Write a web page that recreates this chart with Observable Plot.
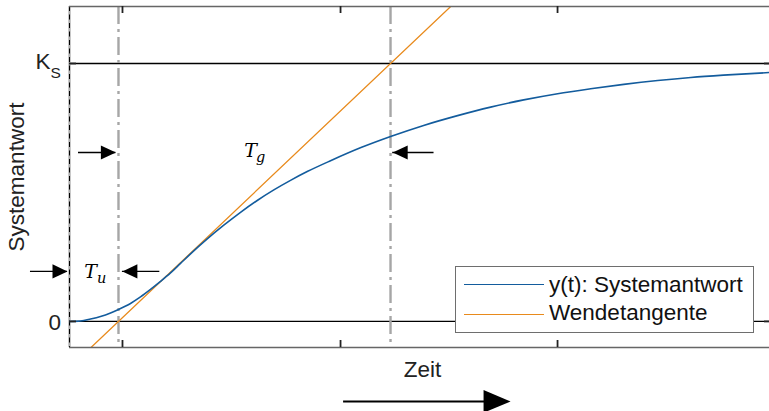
<!DOCTYPE html>
<html><head><meta charset="utf-8">
<script src="https://cdn.jsdelivr.net/npm/d3@7"></script>
<script src="https://cdn.jsdelivr.net/npm/@observablehq/plot@0.6"></script>
<style>
body{margin:0;background:#fff;}
#wrap{position:relative;width:769px;height:411px;font-family:"Liberation Sans",Arial,sans-serif;}
#legend{position:absolute;left:455px;top:266px;width:299px;height:67px;box-sizing:border-box;border:1.4px solid #6e6e6e;background:#fff;}
.sw{position:absolute;left:8px;width:80px;height:0;border-top:1.3px solid;}
.lt{position:absolute;left:93px;font-size:22.5px;line-height:22px;color:#111;white-space:nowrap;}
</style></head>
<body><div id="wrap"></div>
<script>
// step response y(t) (K_S = 1)
const time = [0, 0.253, 0.483, 0.713, 0.943, 1.126, 1.402, 1.632, 1.862, 2.092, 2.322, 2.552, 2.782, 3.166, 3.547, 3.931, 4.315, 4.697, 5.080, 5.464, 6.000, 6.700, 7.380, 8.140, 8.920, 9.680, 10.440, 11.220, 11.980, 12.740, 13.520, 14.280, 15.030, 16.090];
const response = [0, 0.002, 0.0097, 0.0194, 0.033, 0.0465, 0.0698, 0.095, 0.124, 0.155, 0.188, 0.225, 0.262, 0.320, 0.373, 0.423, 0.469, 0.510, 0.547, 0.581, 0.623, 0.674, 0.717, 0.760, 0.798, 0.831, 0.859, 0.883, 0.902, 0.919, 0.934, 0.946, 0.955, 0.965];
// inflection tangent (Wendetangente)
const tangentTime = [0.45, 8.8];
const tangentValue = [-0.108, 1.227];
const Tu = 1.126;      // end of Verzugszeit
const TgEnd = 7.379;   // end of Ausgleichszeit
const yTicks = [0, 1];
const yTickLabels = ["0", "K"];
const xTicks = [1.218, 6.23, 11.218];
const seriesNames = ["y(t): Systemantwort", "Wendetangente"];
const seriesColors = ["#135c9d", "#e88a1c"];
const xLabel = "Zeit";
const yLabel = "Systemantwort";

const curve = time.map((t, i) => ({t, v: response[i]}));
const tangent = tangentTime.map((t, i) => ({t, v: tangentValue[i]}));
const xDomain = [0, 16.09];
const yDomain = [-0.101, 1.221];

function makeHead(dir, ratio) {
  return {draw(ctx, size) {
    const r = Math.sqrt(size / Math.PI);
    ctx.moveTo(0, 0);
    ctx.lineTo(-dir * r, -ratio * r);
    ctx.lineTo(-dir * r, ratio * r);
    ctx.closePath();
  }};
}
const headR = makeHead(1, 0.47), headL = makeHead(-1, 0.47), bigHead = makeHead(1, 0.42);

// annotation arrows (data units)
const yTopArrows = 0.655, yTuArrows = 0.194, yBottomArrow = -0.31;
const arrowLines = [
  {x1: 0.207, x2: Tu - 0.06, y: yTopArrows},
  {x1: TgEnd + 1.0, x2: TgEnd + 0.05, y: yTopArrows},
  {x1: -0.897, x2: -0.046, y: yTuArrows},
  {x1: Tu + 0.95, x2: Tu + 0.09, y: yTuArrows}
];
const rightHeads = [{t: Tu - 0.06, v: yTopArrows}, {t: -0.046, v: yTuArrows}];
const leftHeads = [{t: TgEnd + 0.05, v: yTopArrows}, {t: Tu + 0.09, v: yTuArrows}];

const sans = "Liberation Sans, Arial, sans-serif";
const serif = "DejaVu Serif, Liberation Serif, serif";
const fs = 22.5;

const chart = Plot.plot({
  width: 769, height: 411,
  marginLeft: 69, marginRight: 0, marginTop: 6, marginBottom: 64,
  x: {domain: xDomain, axis: null},
  y: {domain: yDomain, axis: null},
  style: {fontFamily: sans, background: "white", overflow: "visible"},
  marks: [
    Plot.ruleY(yTicks, {y: d => d, stroke: "#000", strokeWidth: 1.3}),
    Plot.ruleX([0], {x: d => d, stroke: "#ababab", strokeWidth: 2.3}),
    Plot.ruleX([0], {x: d => d, stroke: "#000", strokeWidth: 1, strokeDasharray: "5,3.5"}),
    Plot.ruleX([Tu, TgEnd], {x: d => d, stroke: "#a6a6a6", strokeWidth: 2.4, strokeDasharray: "18,5,3,5"}),
    Plot.line(tangent, {x: "t", y: "v", stroke: seriesColors[1], strokeWidth: 1.3, clip: true}),
    Plot.line(curve, {x: "t", y: "v", stroke: seriesColors[0], strokeWidth: 1.6, curve: "monotone-x", clip: true}),
    Plot.ruleY([yDomain[1], yDomain[0]], {y: d => d, stroke: "#666", strokeWidth: 1.6}),
    Plot.tickX(xTicks, {x: d => d, insetTop: 334, stroke: "#222", strokeWidth: 1.8}),
    Plot.tickX(xTicks, {x: d => d, insetBottom: 334, stroke: "#222", strokeWidth: 1.8}),
    Plot.tickY(yTicks, {y: d => d, insetRight: 693, stroke: "#222", strokeWidth: 1.8}),
    Plot.tickY(yTicks, {y: d => d, insetLeft: 695, stroke: "#222", strokeWidth: 1.8}),
    // annotation arrows
    Plot.ruleY(arrowLines, {x1: "x1", x2: "x2", y: "y", stroke: "#000", strokeWidth: 1.3}),
    Plot.dot(rightHeads, {x: "t", y: "v", symbol: headR, r: 15, fill: "#000", stroke: "none"}),
    Plot.dot(leftHeads, {x: "t", y: "v", symbol: headL, r: 15, fill: "#000", stroke: "none"}),
    // T_u and T_g
    Plot.text([{t: Tu / 2, v: 0.1667}], {x: "t", y: "v", text: () => "T", textAnchor: "middle", lineAnchor: "bottom", dx: -3.5, fontFamily: serif, fontStyle: "italic", fontSize: 19, fill: "#000"}),
    Plot.text([{t: Tu / 2, v: 0.1667}], {x: "t", y: "v", text: () => "u", textAnchor: "start", lineAnchor: "bottom", dx: 3, dy: 5, fontFamily: serif, fontStyle: "italic", fontSize: 14.5, fill: "#000"}),
    Plot.text([{t: 4.161, v: 0.6357}], {x: "t", y: "v", text: () => "T", textAnchor: "middle", lineAnchor: "bottom", fontFamily: serif, fontStyle: "italic", fontSize: 19, fill: "#000"}),
    Plot.text([{t: 4.161, v: 0.6357}], {x: "t", y: "v", text: () => "g", textAnchor: "start", lineAnchor: "bottom", dx: 5.5, dy: 4.5, fontFamily: serif, fontStyle: "italic", fontSize: 14.5, fill: "#000"}),
    // y tick labels
    Plot.text([yTicks[0]], {y: d => d, frameAnchor: "left", text: () => yTickLabels[0], textAnchor: "end", lineAnchor: "middle", dx: -8.5, dy: 1, fontSize: fs, fill: "#222"}),
    Plot.text([yTicks[1]], {y: d => d, frameAnchor: "left", text: () => yTickLabels[1], textAnchor: "end", lineAnchor: "bottom", dx: -19, dy: 5, fontSize: fs, fill: "#222"}),
    Plot.text([yTicks[1]], {y: d => d, frameAnchor: "left", text: () => "S", textAnchor: "start", lineAnchor: "bottom", dx: -19, dy: 14, fontSize: 15.5, fill: "#222"}),
    // axis labels
    Plot.text([yLabel], {frameAnchor: "left", text: d => d, rotate: -90, textAnchor: "middle", lineAnchor: "middle", dx: -53, fontSize: fs, fill: "#222"}),
    Plot.text([xLabel], {x: () => 8.115, frameAnchor: "bottom", text: d => d, textAnchor: "middle", lineAnchor: "bottom", dy: 29, fontSize: fs, fill: "#222"}),
    // time arrow
    Plot.ruleY([yBottomArrow], {y: d => d, x1: 6.30, x2: 9.8, stroke: "#000", strokeWidth: 2}),
    Plot.dot([{t: 10.138, v: yBottomArrow}], {x: "t", y: "v", symbol: bigHead, r: 27, fill: "#000", stroke: "none"})
  ]
});

const wrap = document.getElementById("wrap");
wrap.appendChild(chart);

const legend = document.createElement("div");
legend.id = "legend";
const rows = [{line: 17.3, text: 6.5}, {line: 46.5, text: 35}];
seriesNames.forEach((name, i) => {
  const sw = document.createElement("div");
  sw.className = "sw";
  sw.style.top = rows[i].line + "px";
  sw.style.borderTopColor = seriesColors[i];
  legend.appendChild(sw);
  const lt = document.createElement("div");
  lt.className = "lt";
  lt.style.top = rows[i].text + "px";
  lt.textContent = name;
  legend.appendChild(lt);
});
wrap.appendChild(legend);
</script>
</body></html>
